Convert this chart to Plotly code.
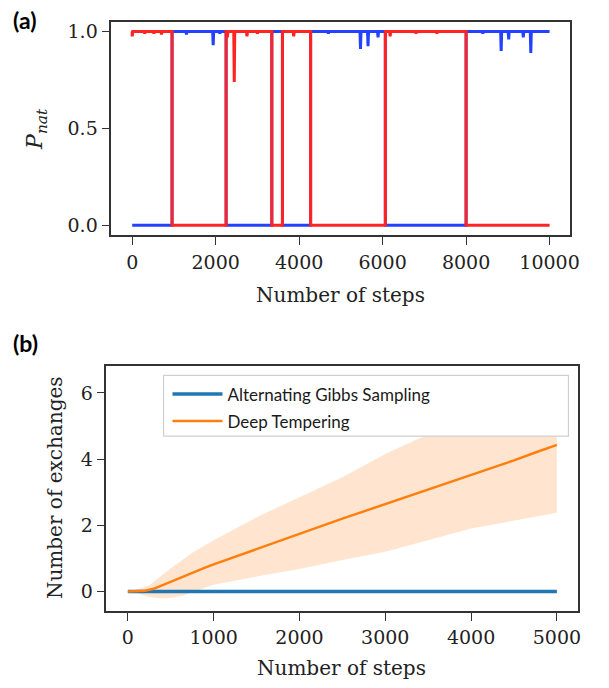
import plotly.graph_objects as go

# ---------------- data: panel (a) ----------------
# switching steps (segment boundaries) and the level of each segment
switch_steps = [0, 955, 2250, 3345, 3600, 4275, 6065, 8000, 10000]
red_levels = [1, 0, 1, 0, 1, 0, 1, 0]
blue_levels = [0, 1, 0, 1, 0, 1, 0, 1]
# short downward spikes while a replica sits near 1
red_dip_steps = [0, 300, 520, 700, 2280, 2445, 2750, 3000, 3870, 6180, 6800, 7300]
red_dip_values = [0.975, 0.99, 0.99, 0.985, 0.97, 0.74, 0.975, 0.99, 0.975, 0.975, 0.99, 0.99]
blue_dip_steps = [1300, 1940, 2100, 4700, 5470, 5650, 5890, 8400, 8840, 9020, 9370, 9550]
blue_dip_values = [0.985, 0.93, 0.99, 0.99, 0.91, 0.925, 0.97, 0.99, 0.90, 0.96, 0.97, 0.89]
DIP_HALF = 12
ticks_a = [0, 2000, 4000, 6000, 8000, 10000]
ticks_a_text = ["0", "2000", "4000", "6000", "8000", "10000"]

# ---------------- data: panel (b) ----------------
steps_b = [0, 100, 200, 300, 400, 500, 600, 700, 800, 900, 1000, 1250, 1500, 1750,
           2000, 2250, 2500, 2750, 3000, 3250, 3500, 3750, 4000, 4250, 4500, 4750, 5000]
gibbs_mean = [0] * len(steps_b)
deep_mean = [0, 0, 0.02, 0.08, 0.19, 0.30, 0.41, 0.52, 0.62, 0.72, 0.82, 1.05, 1.28, 1.52,
             1.76, 1.98, 2.20, 2.42, 2.64, 2.87, 3.08, 3.30, 3.52, 3.73, 3.96, 4.20, 4.43]
band_steps = [0, 100, 250, 400, 500, 650, 750, 1000, 1250, 1500, 2000, 2500, 3000, 3500,
              4000, 4500, 5000]
band_upper = [0, 0.05, 0.19, 0.50, 0.70, 0.98, 1.17, 1.55, 1.90, 2.24, 2.85, 3.45, 4.15, 4.75,
              5.30, 5.80, 6.30]
band_lower = [0, -0.05, -0.17, -0.21, -0.20, -0.12, -0.02, 0.20, 0.33, 0.45, 0.68, 0.95, 1.20,
              1.55, 1.90, 2.15, 2.38]
ticks_b = [0, 1000, 2000, 3000, 4000, 5000]


def build_trace(levels, dip_steps, dip_values):
    xs, ys = [], []
    for i, lev in enumerate(levels):
        a, b = switch_steps[i], switch_steps[i + 1]
        xs.append(a); ys.append(lev)
        if lev == 1:
            for s, v in zip(dip_steps, dip_values):
                if a <= s < b:
                    if s - DIP_HALF > a:
                        xs.append(s - DIP_HALF); ys.append(1)
                    xs.append(s); ys.append(v)
                    xs.append(s + DIP_HALF); ys.append(1)
        xs.append(b); ys.append(lev)
    return xs, ys


W, H = 609, 688
def px(x):
    return x / W
def py(y):
    return 1 - y / H

SERIF = "DejaVu Serif"
SANS = "Lato"
AX = "#222222"

fig = go.Figure()

bx, by = build_trace(blue_levels, blue_dip_steps, blue_dip_values)
rx, ry = build_trace(red_levels, red_dip_steps, red_dip_values)
fig.add_trace(go.Scatter(x=bx, y=by, mode="lines", line=dict(color="rgb(35,65,255)", width=3),
                         showlegend=False, xaxis="x", yaxis="y"))
fig.add_trace(go.Scatter(x=rx, y=ry, mode="lines", line=dict(color="rgb(255,35,35)", width=3),
                         showlegend=False, xaxis="x", yaxis="y"))

# band
fig.add_trace(go.Scatter(x=band_steps + band_steps[::-1], y=band_upper + band_lower[::-1],
                         fill="toself", fillcolor="rgba(255,127,14,0.2)", mode="lines",
                         line=dict(width=0), showlegend=False, hoverinfo="skip",
                         xaxis="x2", yaxis="y2"))
fig.add_trace(go.Scatter(x=steps_b, y=gibbs_mean, mode="lines", name="Alternating Gibbs Sampling",
                         line=dict(color="#1f77b4", width=3.5), legendgroup="g1",
                         xaxis="x2", yaxis="y2"))
fig.add_trace(go.Scatter(x=steps_b, y=deep_mean, mode="lines", name="Deep Tempering",
                         line=dict(color="#ff7f0e", width=2.5), legendgroup="g2",
                         xaxis="x2", yaxis="y2"))

axis_common = dict(showline=True, linecolor="#333333", linewidth=1.6, mirror=True,
                   ticks="outside", ticklen=8, tickwidth=1.4, tickcolor="#333333",
                   showgrid=False, zeroline=False,
                   tickfont=dict(family=SERIF, size=19, color=AX))

fig.update_layout(
    width=W, height=H, margin=dict(l=0, r=0, t=0, b=0),
    paper_bgcolor="white", plot_bgcolor="white",
    xaxis=dict(domain=[px(113), px(579)], range=[-500, 10500], anchor="y",
               tickvals=ticks_a, ticktext=ticks_a_text, ticklabelstandoff=1, **axis_common),
    yaxis=dict(domain=[py(234), py(20)], range=[-0.05, 1.05], anchor="x",
               tickvals=[0, 0.5, 1.0], ticktext=["0.0", "0.5", "1.0"], **axis_common),
    xaxis2=dict(domain=[px(108), px(587)], range=[-250, 5250], anchor="y2",
                tickvals=ticks_b, ticklabelstandoff=0, **axis_common),
    yaxis2=dict(domain=[py(612), py(366)], range=[-0.6, 6.8], anchor="x2",
                tickvals=[0, 2, 4, 6], **axis_common),
    legend=dict(x=px(170), y=py(376), xanchor="left", yanchor="top",
                bgcolor="rgba(0,0,0,0)", borderwidth=0, tracegroupgap=2, itemwidth=50,
                font=dict(family=SANS, size=17, color="#1a1a1a")),
)

# legend frame
fig.add_shape(type="rect", xref="paper", yref="paper", layer="above",
              x0=px(166), x1=px(577), y0=py(436), y1=py(375),
              fillcolor="white", opacity=1, line=dict(color="#d0d0d0", width=1.2))

ann = [
    dict(text="<b>(a)</b>", x=px(11), y=py(18), xanchor="left", yanchor="middle",
         font=dict(family=SANS, size=23, color="black")),
    dict(text="<b>(b)</b>", x=px(11), y=py(342), xanchor="left", yanchor="middle",
         font=dict(family=SANS, size=23, color="black")),
    dict(text="<i>P</i><sub><i>nat</i></sub>", x=px(37), y=py(127), textangle=-90,
         xanchor="center", yanchor="middle", font=dict(family=SERIF, size=22, color=AX)),
    dict(text="Number of steps", x=px(346), y=py(294), xanchor="center", yanchor="middle",
         font=dict(family=SERIF, size=20, color=AX)),
    dict(text="Number of exchanges", x=px(56), y=py(488), textangle=-90,
         xanchor="center", yanchor="middle", font=dict(family=SERIF, size=20, color=AX)),
    dict(text="Number of steps", x=px(347), y=py(669), xanchor="center", yanchor="middle",
         font=dict(family=SERIF, size=20, color=AX)),
]
for a in ann:
    a.update(xref="paper", yref="paper", showarrow=False)
fig.update_layout(annotations=ann)

fig.write_html("out.html")
